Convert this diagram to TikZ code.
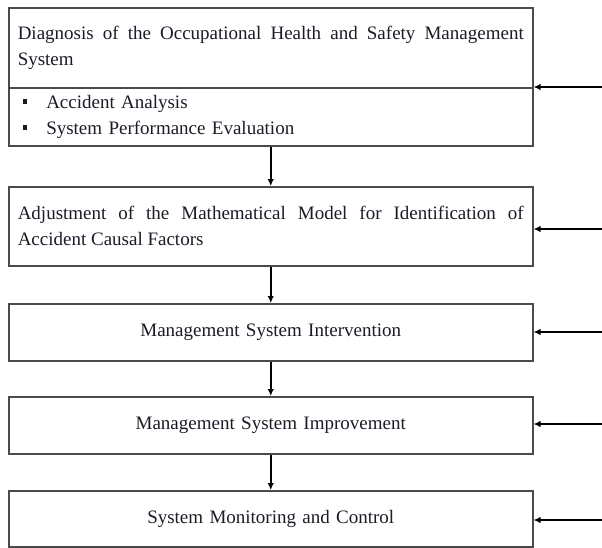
\documentclass[tikz,border=0pt]{standalone}
\usepackage{fontspec}
\setmainfont{Liberation Serif}
\usetikzlibrary{arrows.meta}
\definecolor{boxline}{HTML}{4A4A4A}
\definecolor{ink}{HTML}{1C1C28}
\newcommand{\sqbullet}{\hspace*{5pt}\rule[4.5pt]{4.5pt}{4.5pt}\hspace{19pt}}
\newcommand{\nohyph}{\hyphenpenalty=10000\exhyphenpenalty=10000\tolerance=9999}
\begin{document}
\begin{tikzpicture}[x=1pt,y=-1pt,
  stagebox/.style={draw=boxline, line width=1.5pt, rectangle, anchor=north west,
    minimum width=524pt, inner xsep=9pt, inner ysep=0pt, text width=506pt,
    text=ink, font=\fontsize{19}{26}\selectfont\nohyph},
  flow/.style={draw=black, line width=2.2pt, -{Latex[length=7pt,width=6.5pt]}},
  feed/.style={draw=black, line width=2.2pt, -{Latex[length=7pt,width=6.5pt]}}]
\useasboundingbox (0,0) rectangle (602,547);
\fill[white] (0,0) rectangle (602,547);

% stages of the procedure
\node[stagebox, align=justify, minimum height=80pt] (diag) at (8,7)
  {Diagnosis of the Occupational Health and Safety Management System};
\node[stagebox, align=left, minimum height=58pt] (diaglist) at (8,87)
  {\sqbullet Accident Analysis\\ \sqbullet System Performance Evaluation};
\node[stagebox, align=justify, minimum height=79pt] (adjust) at (8,186)
  {Adjustment of the Mathematical Model for Identification of Accident Causal Factors};
\node[stagebox, align=center, minimum height=57pt] (interv) at (8,303)
  {Management System Intervention};
\node[stagebox, align=center, minimum height=57pt] (improve) at (8,396)
  {Management System Improvement};
\node[stagebox, align=center, minimum height=56pt] (monitor) at (8,490)
  {System Monitoring and Control};

% flow between stages
\draw[flow] (diaglist.south) -- (adjust.north);
\draw[flow] (adjust.south) -- (interv.north);
\draw[flow] (interv.south) -- (improve.north);
\draw[flow] (improve.south) -- (monitor.north);

% inputs entering from the right margin
\coordinate (in1) at (602,87);
\coordinate (in2) at (602,229);
\coordinate (in3) at (602,332);
\coordinate (in4) at (602,424);
\coordinate (in5) at (602,520);
\draw[feed] (in1) -- (diaglist.north east);
\draw[feed] (in2) -- (in2 -| adjust.east);
\draw[feed] (in3) -- (in3 -| interv.east);
\draw[feed] (in4) -- (in4 -| improve.east);
\draw[feed] (in5) -- (in5 -| monitor.east);
\end{tikzpicture}
\end{document}
